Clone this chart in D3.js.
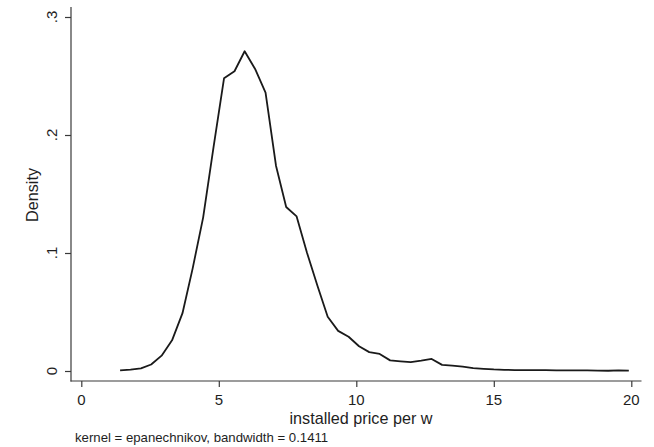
<!DOCTYPE html>
<html>
<head>
<meta charset="utf-8">
<script src="https://cdn.jsdelivr.net/npm/d3@7"></script>
<style>
  body { margin: 0; background: #fff; }
  text { font-family: "Liberation Sans", Arial, sans-serif; fill: #1e1e1e; }
</style>
</head>
<body>
<div id="chart-container"></div>
<script>
// kdensity evaluation points (50 points, Stata default) and estimated density
const gridX = [1.41, 1.79, 2.17, 2.54, 2.92, 3.30, 3.68, 4.05, 4.43, 4.81,
               5.19, 5.57, 5.94, 6.32, 6.70, 7.08, 7.45, 7.83, 8.21, 8.59,
               8.96, 9.34, 9.72, 10.10, 10.47, 10.85, 11.23, 11.61, 11.98, 12.36,
               12.74, 13.12, 13.49, 13.87, 14.25, 14.63, 15.00, 15.38, 15.76, 16.14,
               16.52, 16.89, 17.27, 17.65, 18.03, 18.40, 18.78, 19.16, 19.54, 19.91];
const density = [0.0005, 0.0012, 0.0022, 0.0055, 0.013, 0.026, 0.049, 0.087, 0.130, 0.190,
                 0.248, 0.254, 0.271, 0.256, 0.236, 0.174, 0.139, 0.131, 0.100, 0.072,
                 0.046, 0.034, 0.029, 0.021, 0.016, 0.0145, 0.009, 0.0082, 0.0076, 0.0088,
                 0.0102, 0.0052, 0.0045, 0.0037, 0.0024, 0.0018, 0.0013, 0.0010, 0.0008, 0.0008,
                 0.0007, 0.0007, 0.0006, 0.0006, 0.0006, 0.0005, 0.0003, 0.0002, 0.0006, 0.0003];
const xTicks = [0, 5, 10, 15, 20];
const yTicks = [0, 0.1, 0.2, 0.3];
const yTickLabels = ["0", ".1", ".2", ".3"];

const W = 654, H = 447;

const svg = d3.select("#chart-container")
    .append("svg")
    .attr("width", W)
    .attr("height", H);

// scales (plot region has 10px padding around the data range)
const x = d3.scaleLinear().domain([0, 20]).range([81.3, 631.3]);
const y = d3.scaleLinear().domain([0, 0.3]).range([371, 17]);

const axisColor = "#3a3a3a";

// y axis
const yAxis = svg.append("g")
    .attr("transform", "translate(71,0)")
    .call(d3.axisLeft(y).tickValues(yTicks).tickSize(6).tickFormat(""));
yAxis.select(".domain").remove();
yAxis.selectAll("line").attr("stroke", axisColor).attr("stroke-width", 1.2);
svg.append("line")
    .attr("x1", 71).attr("x2", 71)
    .attr("y1", 7).attr("y2", 381.5)
    .attr("stroke", axisColor).attr("stroke-width", 1.2);

svg.selectAll(".ylab")
    .data(yTicks)
    .enter().append("text")
    .attr("class", "ylab")
    .attr("transform", (d, i) => `translate(57,${y(d)}) rotate(-90)`)
    .attr("text-anchor", "middle")
    .attr("font-size", 15)
    .text((d, i) => yTickLabels[i]);

// x axis
const xAxis = svg.append("g")
    .attr("transform", "translate(0,381)")
    .call(d3.axisBottom(x).tickValues(xTicks).tickSize(6).tickFormat(""));
xAxis.select(".domain").remove();
xAxis.selectAll("line").attr("stroke", axisColor).attr("stroke-width", 1.2);
svg.append("line")
    .attr("x1", 70.5).attr("x2", 641.5)
    .attr("y1", 381).attr("y2", 381)
    .attr("stroke", axisColor).attr("stroke-width", 1.2);

svg.selectAll(".xlab")
    .data(xTicks)
    .enter().append("text")
    .attr("class", "xlab")
    .attr("x", d => x(d))
    .attr("y", 405)
    .attr("text-anchor", "middle")
    .attr("font-size", 15)
    .text(d => d);

// axis titles
svg.append("text")
    .attr("transform", "translate(38,195) rotate(-90)")
    .attr("text-anchor", "middle")
    .attr("font-size", 16.2)
    .text("Density");

svg.append("text")
    .attr("x", 361)
    .attr("y", 423.5)
    .attr("text-anchor", "middle")
    .attr("font-size", 16.2)
    .text("installed price per w");

svg.append("text")
    .attr("x", 75)
    .attr("y", 442)
    .attr("font-size", 13.2)
    .text("kernel = epanechnikov, bandwidth = 0.1411");

// density line
const line = d3.line()
    .x((d, i) => x(gridX[i]))
    .y(d => y(d));

svg.append("path")
    .datum(density)
    .attr("fill", "none")
    .attr("stroke", "#1a1a1a")
    .attr("stroke-width", 1.8)
    .attr("stroke-linejoin", "round")
    .attr("d", line);
</script>
</body>
</html>
